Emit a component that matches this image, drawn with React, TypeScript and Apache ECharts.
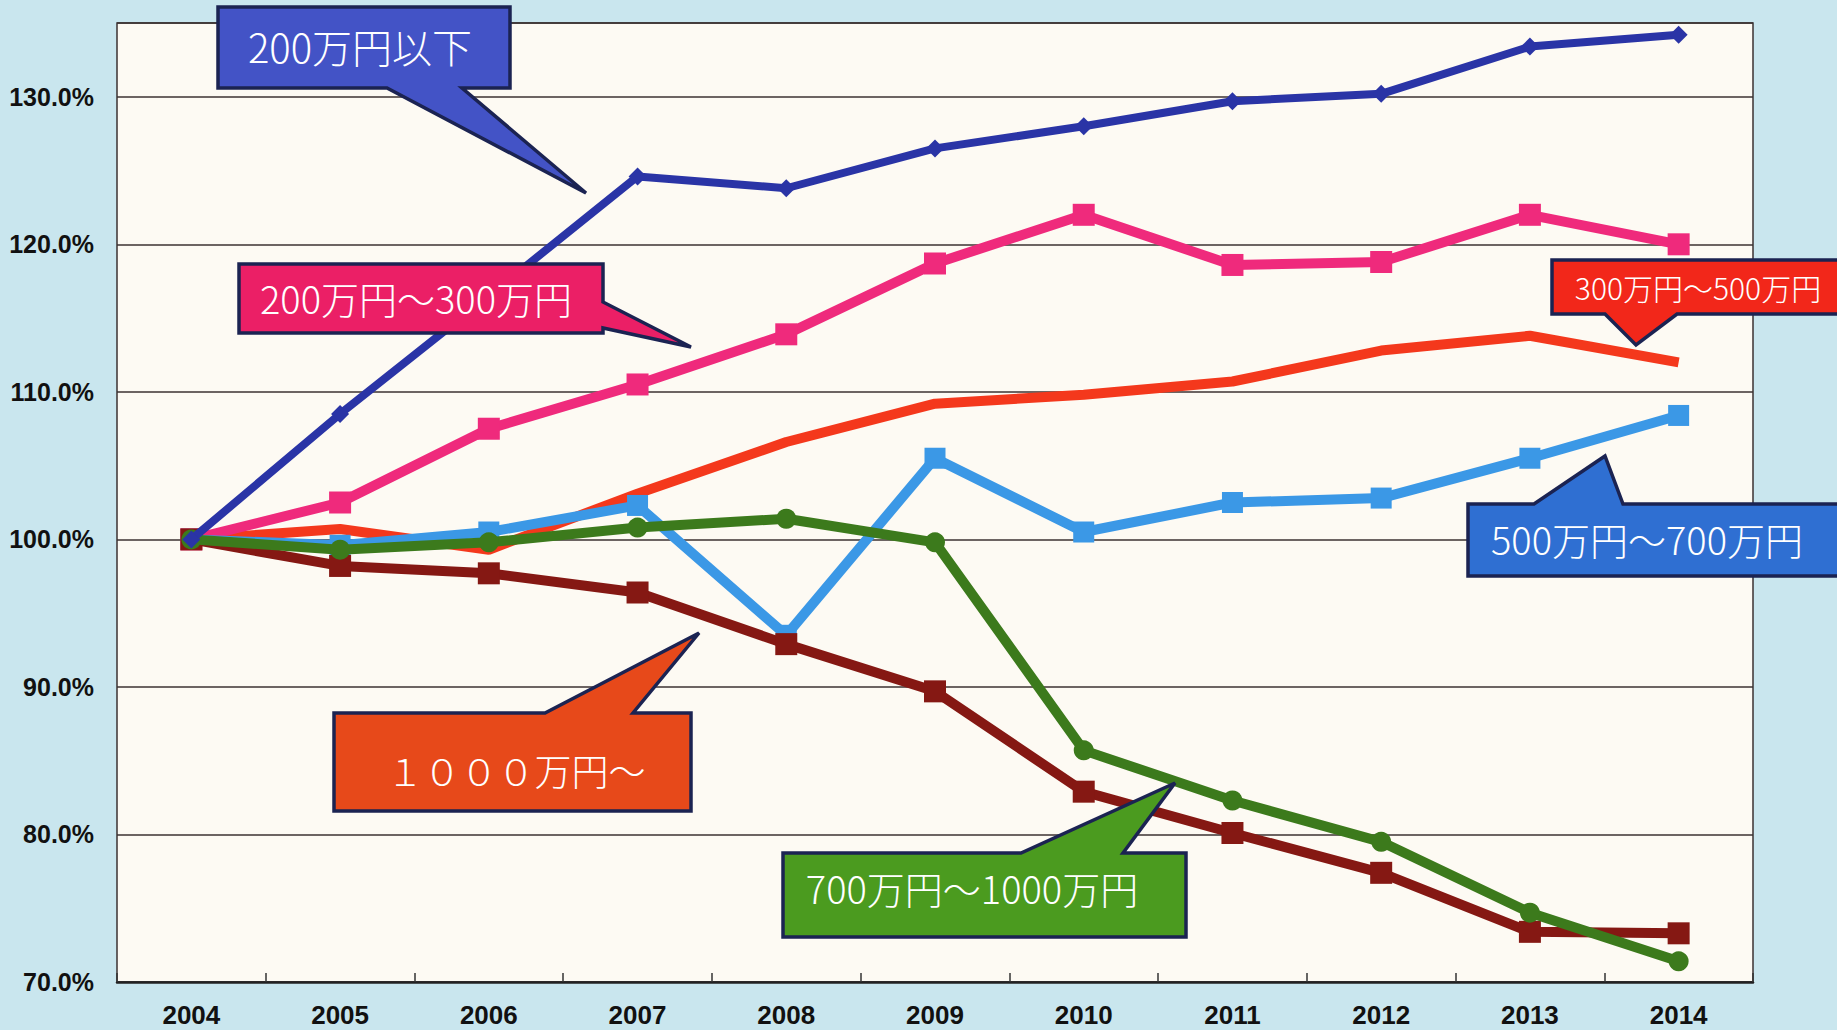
import React, { useEffect, useRef } from "react";
import * as echarts from "echarts";

const years = ["2004", "2005", "2006", "2007", "2008", "2009", "2010", "2011", "2012", "2013", "2014"];

const seriesNames = ["200万円以下", "200万円～300万円", "300万円～500万円", "500万円～700万円", "700万円～1000万円", "1000万円～"];

const under200 = [100, 108.5, 116.5, 124.6, 123.8, 126.5, 128.0, 129.7, 130.2, 133.4, 134.2];
const from200to300 = [100, 102.5, 107.5, 110.5, 113.9, 118.7, 122.0, 118.6, 118.8, 122.0, 120.0];
const from300to500 = [100, 100.7, 99.3, 103.1, 106.6, 109.2, 109.8, 110.7, 112.8, 113.8, 112.0];
const from500to700 = [100, 99.6, 100.5, 102.3, 93.5, 105.5, 100.5, 102.5, 102.8, 105.5, 108.4];
const from700to1000 = [100, 99.3, 99.8, 100.8, 101.4, 99.8, 85.7, 82.3, 79.5, 74.7, 71.4];
const over1000 = [100, 98.2, 97.7, 96.4, 92.9, 89.7, 82.9, 80.1, 77.4, 73.4, 73.3];

const yTicks = [70, 80, 90, 100, 110, 120, 130];

const calloutTexts = ["200万円以下", "200万円～300万円", "300万円～500万円", "500万円～700万円", "１０００万円～", "700万円～1000万円"];

const BORDER = "#1b2352";
const CJK = '"Noto Sans CJK JP", "Noto Sans", sans-serif';
const AXISFONT = '"Liberation Sans Narrow", "Liberation Sans", Arial, sans-serif';

function callout(points: number[][], fill: string, text: string, tx: number, ty: number, size: number) {
  return {
    type: "group",
    z: 100,
    children: [
      {
        type: "polygon",
        shape: { points },
        style: { fill, stroke: BORDER, lineWidth: 3.5, lineJoin: "miter" },
        z: 100,
      },
      {
        type: "text",
        x: tx,
        y: ty,
        style: {
          text,
          fill: "#ffffff",
          font: `300 ${size}px ${CJK}`,
          align: "center",
          verticalAlign: "middle",
        },
        z: 101,
      },
    ],
  };
}

export default function App() {
  const ref = useRef<HTMLDivElement>(null);
  useEffect(() => {
    if (!ref.current) return;
    const chart = echarts.init(ref.current, null, { renderer: "svg" });
    const mk = (name: string, data: number[], color: string, symbol: string, size: number, width: number, z: number) => ({
      name,
      type: "line",
      data,
      symbol,
      symbolSize: size,
      showSymbol: symbol !== "none",
      lineStyle: { color, width },
      itemStyle: { color, borderWidth: 0 },
      z,
    });
    chart.setOption({
      animation: false,
      backgroundColor: "#c9e6ee",
      grid: {
        left: 117,
        right: 84,
        top: 23,
        bottom: 48,
        show: true,
        outerBoundsMode: "none",
        containLabel: false,
        backgroundColor: "#fdfaf3",
        borderColor: "#3b3232",
        borderWidth: 1.5,
      },
      xAxis: {
        type: "category",
        data: years,
        boundaryGap: true,
        axisLine: { lineStyle: { color: "#222", width: 2.5 } },
        axisTick: { show: true, inside: true, length: 9, lineStyle: { color: "#333", width: 1.5 } },
        axisLabel: {
          color: "#111",
          fontFamily: AXISFONT,
          fontWeight: "bold",
          fontSize: 26,
          margin: 20,
        },
        splitLine: { show: false },
      },
      yAxis: {
        type: "value",
        min: 70,
        max: 135,
        interval: 10,
        axisLine: { show: false },
        axisTick: { show: false },
        axisLabel: {
          color: "#111",
          fontFamily: AXISFONT,
          fontWeight: "bold",
          fontSize: 25,
          margin: 23,
          formatter: (v: number) => (yTicks.includes(v) ? v.toFixed(1) + "%" : ""),
        },
        splitLine: { show: true, lineStyle: { color: "#3b3232", width: 1.5 } },
      },
      series: [
        mk(seriesNames[2], from300to500, "#f4381c", "none", 0, 10, 2),
        mk(seriesNames[1], from200to300, "#ef2a7c", "rect", 22, 10, 3),
        mk(seriesNames[3], from500to700, "#3b98e6", "rect", 21, 10, 4),
        mk(seriesNames[5], over1000, "#851813", "rect", 22, 10, 5),
        mk(seriesNames[4], from700to1000, "#3c7a1c", "circle", 20, 10, 6),
        mk(seriesNames[0], under200, "#2a34a6", "diamond", 18, 8, 7),
      ],
      graphic: [
        callout(
          [[218, 7], [510, 7], [510, 88], [462, 88], [586, 193], [387, 88], [218, 88]],
          "#4353c6", calloutTexts[0], 360, 46, 40
        ),
        callout(
          [[239, 264], [603, 264], [603, 302], [691, 347], [603, 328], [603, 333], [239, 333]],
          "#eb1f66", calloutTexts[1], 416, 297, 38
        ),
        callout(
          [[1552, 260], [1845, 260], [1845, 314], [1677, 314], [1636, 345], [1605, 314], [1552, 314]],
          "#f2271a", calloutTexts[2], 1698, 287, 30
        ),
        callout(
          [[1468, 504], [1534, 504], [1605, 456], [1623, 504], [1845, 504], [1845, 576], [1468, 576]],
          "#2f6fd2", calloutTexts[3], 1647, 538, 38
        ),
        callout(
          [[334, 713], [545, 713], [699, 633], [633, 713], [691, 713], [691, 811], [334, 811]],
          "#e7491a", calloutTexts[4], 516, 770, 37
        ),
        callout(
          [[783, 853], [1021, 853], [1175, 783], [1123, 853], [1186, 853], [1186, 937], [783, 937]],
          "#4b9b1f", calloutTexts[5], 972, 887, 38
        ),
      ],
    });
    return () => chart.dispose();
  }, []);
  return <div ref={ref} style={{ position: "fixed", left: 0, top: 0, width: 1837, height: 1030 }} />;
}
